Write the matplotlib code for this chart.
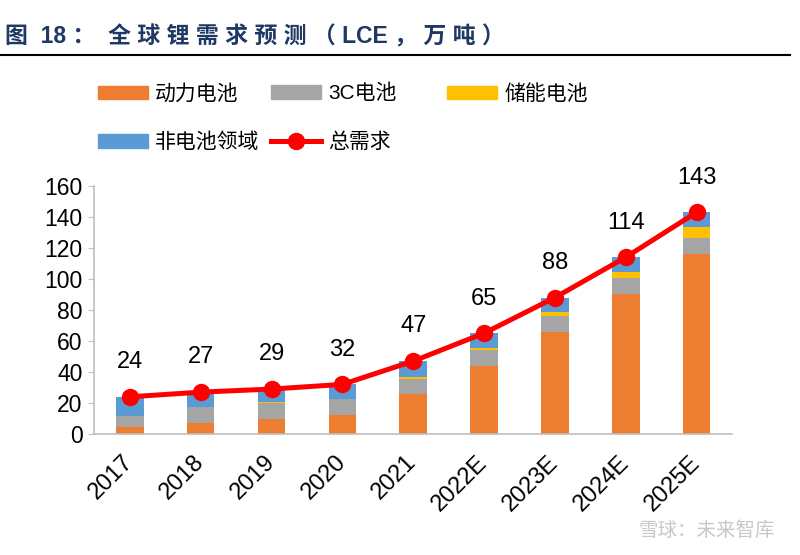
import numpy as np
import matplotlib
matplotlib.use("Agg")
import matplotlib.pyplot as plt
from matplotlib.patches import Patch
from matplotlib.lines import Line2D

plt.rcParams['font.family'] = ['Liberation Sans', 'Noto Sans CJK SC', 'DejaVu Sans']

# 数据(万吨 LCE)
years = ['2017', '2018', '2019', '2020', '2021', '2022E', '2023E', '2024E', '2025E']
power = [4.3, 7.3, 9.9, 12.0, 25.9, 43.9, 65.7, 90.1, 116.0]      # 动力电池
c3 = [7.3, 10.0, 10.2, 10.5, 9.9, 10.1, 10.3, 10.3, 10.1]         # 3C电池
storage = [0.3, 0.3, 0.3, 0.3, 1.0, 1.7, 2.6, 4.3, 7.3]           # 储能电池
non_batt = [12.1, 9.4, 8.6, 9.2, 10.2, 9.3, 9.4, 9.3, 9.6]        # 非电池领域
total = [24, 27, 29, 32, 47, 65, 88, 114, 143]                    # 总需求

c_orange, c_gray, c_yellow, c_blue, c_red = '#ED7D31', '#A5A5A5', '#FFC000', '#5B9BD5', '#FF0000'

fig = plt.figure(figsize=(8, 5.55), dpi=100)
ax = fig.add_axes([0.118, 0.218, 0.797, 0.447])

x = np.arange(len(years))
w = 0.39
b1 = np.array(power)
b2 = b1 + np.array(c3)
b3 = b2 + np.array(storage)
ax.bar(x, power, w, color=c_orange, zorder=2)
ax.bar(x, c3, w, bottom=b1, color=c_gray, zorder=2)
ax.bar(x, storage, w, bottom=b2, color=c_yellow, zorder=2)
ax.bar(x, non_batt, w, bottom=b3, color=c_blue, zorder=2)
ax.plot(x, total, color=c_red, lw=3.6, marker='o', ms=11.5, zorder=3)
for xi, v in zip(x, total):
    ax.annotate(str(v), (xi, v), xytext=(0, 25), textcoords='offset points',
                ha='center', va='center', fontsize=17)

ax.set_xlim(-0.5, len(years) - 0.5)
ax.set_ylim(0, 160)
ax.set_yticks(np.arange(0, 161, 20))
ax.set_xticks(x)
ax.set_xticklabels(years, rotation=45, ha='right', va='center', rotation_mode='anchor', fontsize=17)
ax.tick_params(axis='y', labelsize=16.5, length=4.5, color='#BFBFBF', pad=4)
ax.tick_params(axis='x', length=0, pad=18)
for s in ['top', 'right']:
    ax.spines[s].set_visible(False)
for s in ['left', 'bottom']:
    ax.spines[s].set_color('#BFBFBF')
    ax.spines[s].set_linewidth(1.2)

# 图例(三列固定位置)
kw = dict(frameon=False, fontsize=15, handlelength=2.4, handleheight=0.63,
          handletextpad=0.35, labelspacing=1.4, borderpad=0, borderaxespad=0, loc='upper left')
h_power = Patch(color=c_orange, label='动力电池')
h_c3 = Patch(color=c_gray, label='3C电池')
h_st = Patch(color=c_yellow, label='储能电池')
h_nb = Patch(color=c_blue, label='非电池领域')
h_tot = Line2D([], [], color=c_red, lw=3.6, marker='o', ms=11.5, label='总需求')
for hs, x0 in [([h_power, h_nb], 98), ([h_c3, h_tot], 271), ([h_st], 447)]:
    lg = fig.legend(handles=hs, bbox_to_anchor=(x0 / 800, 1 - 84 / 555), **kw)

# 标题
fig.text(5 / 800, 1 - 37 / 555, '图  18 ：  全 球 锂 需 求 预 测 （ LCE ， 万 吨 ）', fontsize=16.5,
         fontweight='bold', color='#1F3864', va='center', ha='left')
fig.add_artist(Line2D([0, 790 / 800], [1 - 55 / 555] * 2, color='black', lw=1.5))
# 水印
fig.text(775 / 800, 1 - 530 / 555, '雪球：未来智库', fontsize=14, color='#C8C8C8',
         va='center', ha='right')

fig.savefig('out.png', dpi=100)
